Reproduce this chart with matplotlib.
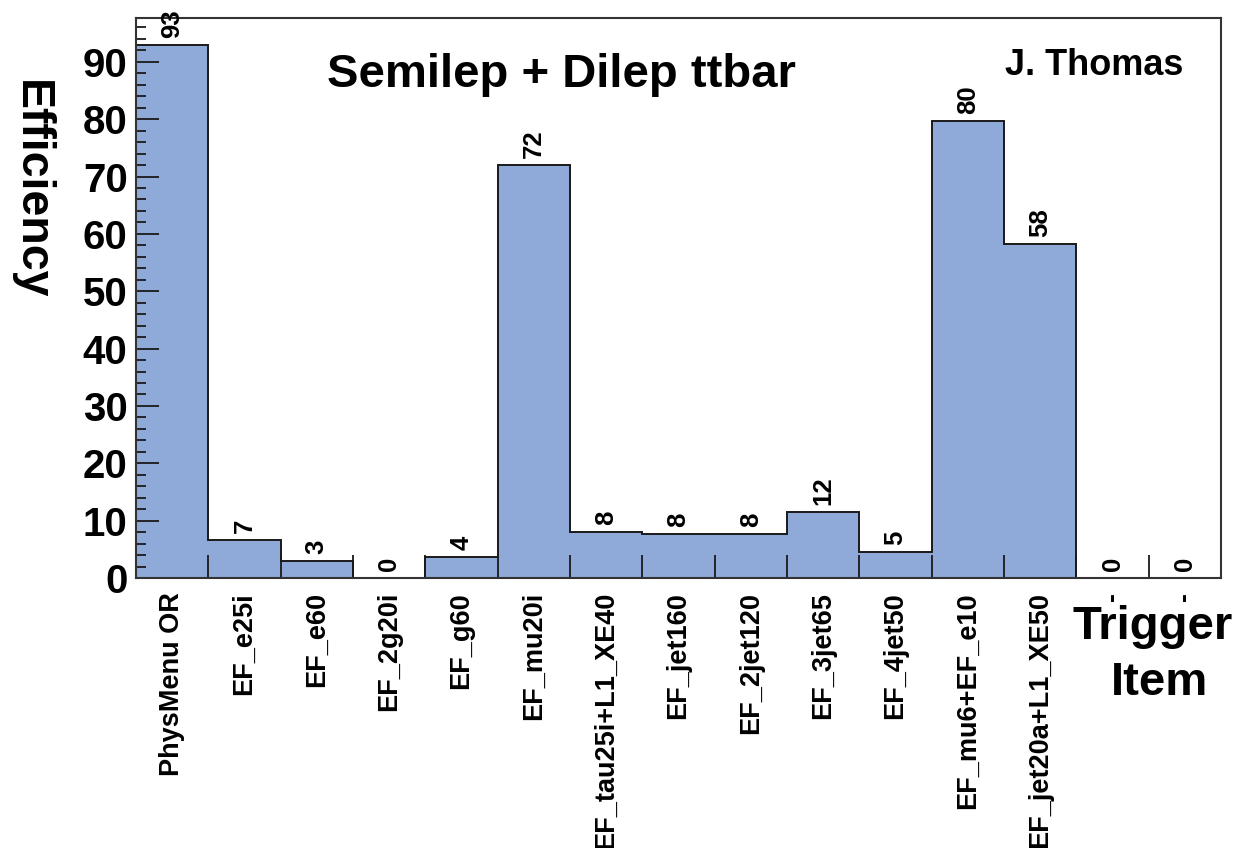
import matplotlib
matplotlib.use("Agg")
import matplotlib.pyplot as plt
import numpy as np

# trigger items and efficiencies (%)
triggers = ["PhysMenu OR", "EF_e25i", "EF_e60", "EF_2g20i", "EF_g60", "EF_mu20i",
            "EF_tau25i+L1_XE40", "EF_jet160", "EF_2jet120", "EF_3jet65", "EF_4jet50",
            "EF_mu6+EF_e10", "EF_jet20a+L1_XE50", "-", "-"]
efficiency = [93.0, 6.6, 3.0, 0.0, 3.7, 72.0, 8.1, 7.6, 7.6, 11.5, 4.6, 79.7, 58.2, 0.0, 0.0]

plt.rcParams['font.family'] = ['Liberation Sans', 'DejaVu Sans']
plt.rcParams['font.weight'] = 'bold'

fig = plt.figure(figsize=(12.37, 8.48), dpi=100)
ax = fig.add_axes([0.1099, 0.3184, 0.9871 - 0.1099, 0.9788 - 0.3184])

nbins = len(efficiency)
edges = np.arange(nbins + 1)
centers = edges[:-1] + 0.5
fill = '#8fa9d9'

ax.stairs(efficiency, edges, fill=True, color=fill, zorder=1)
ax.stairs(efficiency, edges, color='#1a1a1a', lw=1.4, zorder=2)

# bin contents written above each bin
for xc, v in zip(centers, efficiency):
    ax.annotate("%.0f" % v, (xc, v), xytext=(0, 5), textcoords='offset points',
                rotation=90, ha='center', va='bottom', fontsize=18.5, fontweight='bold')

ax.set_xlim(0, nbins)
ax.set_ylim(0, 97.65)

# y axis: major every 10, minor every 2, ticks inside
ax.set_yticks(np.arange(0, 91, 10))
ax.set_yticks(np.arange(0, 97, 2), minor=True)
ax.tick_params(axis='y', which='major', direction='in', length=16.3, width=1.3,
               labelsize=29, pad=6, color='#1a1a1a')
ax.tick_params(axis='y', which='minor', direction='in', length=7.2, width=1.3, color='#1a1a1a')

# x axis: ticks at bin edges, labels at bin centres
ax.set_xticks(edges[1:-1])
ax.set_xticklabels([])
ax.set_xticks(centers, triggers, minor=True)
ax.tick_params(axis='x', which='major', direction='in', length=16.3, width=1.3, color='#1a1a1a')
ax.tick_params(axis='x', which='minor', length=0, labelsize=19.5, pad=10, labelrotation=90)
for lab in ax.get_xticklabels(minor=True):
    lab.set_verticalalignment('top')
    lab.set_fontweight('bold')
for lab in ax.get_yticklabels():
    lab.set_fontweight('bold')

for s in ax.spines.values():
    s.set_color('#333333')
    s.set_linewidth(1.5)

fig.text(561 / 1237, 1 - 87 / 848, "Semilep + Dilep ttbar", ha='center', va='baseline',
         fontsize=34, fontweight='bold')
fig.text(1094 / 1237, 1 - 75 / 848, "J. Thomas", ha='center', va='baseline',
         fontsize=26, fontweight='bold')
fig.text(31 / 1237, 1 - 190 / 848, "Efficiency", ha='center', va='center', rotation=270,
         fontsize=33.5, fontweight='bold')
fig.text(1153 / 1237, 1 - 639 / 848, "Trigger", ha='center', va='baseline',
         fontsize=34, fontweight='bold')
fig.text(1160 / 1237, 1 - 695 / 848, "Item", ha='center', va='baseline',
         fontsize=34, fontweight='bold')

fig.savefig("out.png", dpi=100)
